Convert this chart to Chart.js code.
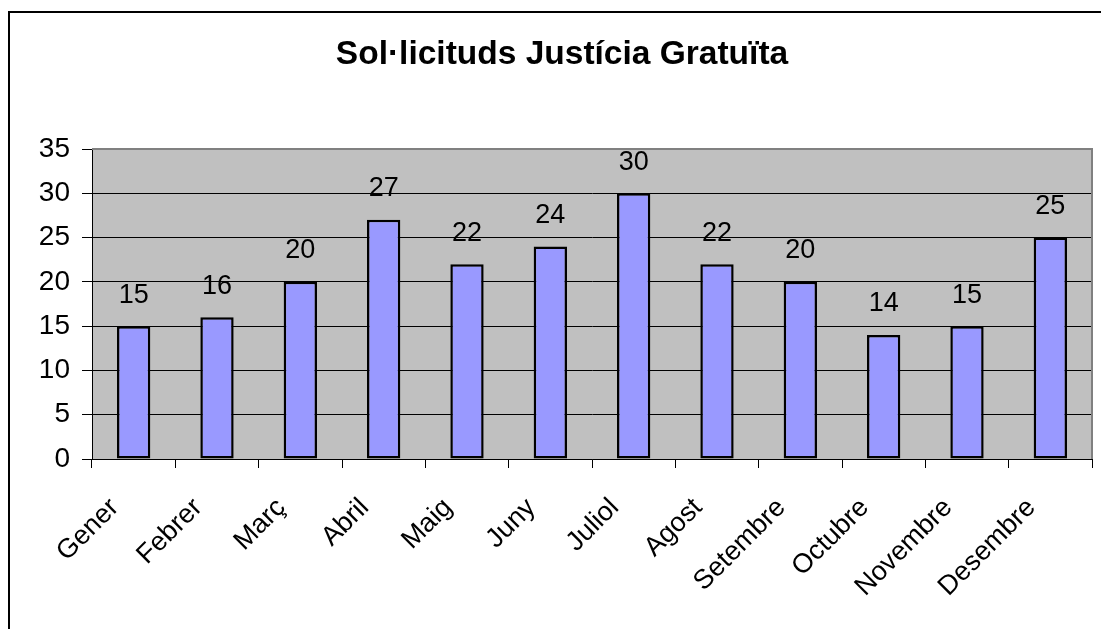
<!DOCTYPE html>
<html>
<head>
<meta charset="utf-8">
<script src="https://cdn.jsdelivr.net/npm/chart.js@4/dist/chart.umd.min.js"></script>
<style>
  html, body { margin: 0; padding: 0; background: #fff; overflow: hidden; }
  #wrap { position: relative; width: 1101px; height: 629px; overflow: hidden; }
  #frame { position: absolute; left: 8px; top: 11px; width: 2000px; height: 2000px; border: 2px solid #000; box-sizing: border-box; }
  canvas { position: absolute; left: 0; top: 0; }
</style>
</head>
<body>
<div id="wrap">
  <div id="frame"></div>
  <canvas id="c" width="1101" height="629"></canvas>
</div>
<script>
const titleText = "Sol·licituds Justícia Gratuïta";
const categories = ["Gener", "Febrer", "Març", "Abril", "Maig", "Juny", "Juliol", "Agost", "Setembre", "Octubre", "Novembre", "Desembre"];
const requests = [15, 16, 20, 27, 22, 24, 30, 22, 20, 14, 15, 25];
const yTicks = [0, 5, 10, 15, 20, 25, 30, 35];

const FONT = "'Liberation Sans', Arial, sans-serif";

const plotBg = {
  id: 'plotBg',
  beforeDraw(chart) {
    const { ctx, chartArea: a } = chart;
    ctx.save();
    ctx.fillStyle = '#C0C0C0';
    ctx.fillRect(a.left, a.top, a.right - a.left, a.bottom - a.top);
    ctx.restore();
  },
  afterDatasetsDraw(chart) {
    const { ctx, chartArea: a } = chart;
    ctx.save();
    ctx.strokeStyle = '#808080';
    ctx.lineWidth = 2;
    ctx.beginPath();
    ctx.moveTo(a.left, a.top);
    ctx.lineTo(a.right, a.top);
    ctx.lineTo(a.right, a.bottom);
    ctx.stroke();
    ctx.restore();
  },
  afterDraw(chart) {
    const { ctx } = chart;
    ctx.save();
    ctx.fillStyle = '#000';
    ctx.font = 'bold 33.5px ' + FONT;
    ctx.textAlign = 'center';
    ctx.textBaseline = 'middle';
    ctx.fillText(titleText, 562, 55);
    ctx.restore();
  }
};

const valueLabels = {
  id: 'valueLabels',
  afterDatasetsDraw(chart) {
    const { ctx } = chart;
    const meta = chart.getDatasetMeta(0);
    ctx.save();
    ctx.fillStyle = '#000';
    ctx.font = '27px ' + FONT;
    ctx.textAlign = 'center';
    ctx.textBaseline = 'middle';
    meta.data.forEach((bar, i) => {
      ctx.fillText(String(requests[i]), bar.x, bar.y - 31);
    });
    ctx.restore();
  }
};

new Chart(document.getElementById('c'), {
  type: 'bar',
  data: {
    labels: categories,
    datasets: [{
      data: requests,
      backgroundColor: '#9999FF',
      borderColor: '#000000',
      borderWidth: 2.5,
      borderSkipped: false,
      barPercentage: 0.4,
      categoryPercentage: 1.0
    }]
  },
  options: {
    responsive: false,
    animation: false,
    devicePixelRatio: 1,
    layout: { padding: { left: 0, right: 9, top: 149, bottom: 0 } },
    plugins: {
      legend: { display: false },
      tooltip: { enabled: false },
      title: { display: false }
    },
    scales: {
      x: {
        offset: true,
        grid: {
          display: true,
          offset: true,
          drawOnChartArea: false,
          drawTicks: true,
          tickLength: 9,
          tickColor: '#000',
          color: '#000'
        },
        border: { display: true, color: '#000', width: 1 },
        ticks: {
          color: '#000',
          font: { family: FONT, size: 27 },
          minRotation: 45,
          maxRotation: 45,
          padding: 24,
          labelOffset: -19,
          autoSkip: false
        },
        afterFit(scale) { scale.height = 170; }
      },
      y: {
        min: 0,
        max: 35,
        afterBuildTicks(scale) { scale.ticks = yTicks.map(v => ({ value: v })); },
        grid: {
          color: (c) => c.tick && c.tick.value === 35 ? '#808080' : '#000',
          lineWidth: 1,
          drawTicks: true,
          tickLength: 10,
          tickColor: '#000'
        },
        border: { display: true, color: '#000', width: 1 },
        ticks: {
          color: '#000',
          font: { family: FONT, size: 28 },
          padding: 12
        },
        afterFit(scale) { scale.width = 92; }
      }
    }
  },
  plugins: [plotBg, valueLabels]
});
</script>
</body>
</html>
